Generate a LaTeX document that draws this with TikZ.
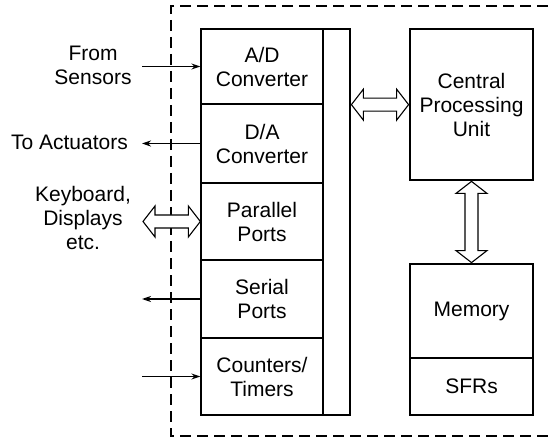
\documentclass[tikz,border=0pt]{standalone}
\usepackage{fontspec}
\setmainfont{Liberation Sans}
\usetikzlibrary{arrows.meta,calc}
\tikzset{
  sec/.style={draw, line width=1.3pt, minimum width=122pt, inner sep=0pt, align=center},
  thickbox/.style={draw, line width=2.8pt, inner sep=0pt},
  lbl/.style={align=center, inner sep=0pt},
  arr/.style={line width=1.2pt, -{Stealth[length=9pt,width=6pt]}},
  darr/.style={draw, line width=1.1pt, fill=white, line join=miter},
  dashbox/.style={line width=1.2pt, dash pattern=on 11pt off 6pt}
}
\newcommand\hdarrow[2]{\draw[darr] (#1) -- ($(#1)+(12,-15.5)$) -- ($(#1)+(12,-6.5)$) -- ($(#2)+(-12,-6.5)$) -- ($(#2)+(-12,-15.5)$) -- (#2) -- ($(#2)+(-12,15.5)$) -- ($(#2)+(-12,6.5)$) -- ($(#1)+(12,6.5)$) -- ($(#1)+(12,15.5)$) -- cycle;}
\newcommand\vdarrow[2]{\draw[darr] (#1) -- ($(#1)+(-15.5,12)$) -- ($(#1)+(-6.5,12)$) -- ($(#2)+(-6.5,-12)$) -- ($(#2)+(-15.5,-12)$) -- (#2) -- ($(#2)+(15.5,-12)$) -- ($(#2)+(6.5,-12)$) -- ($(#1)+(6.5,12)$) -- ($(#1)+(15.5,12)$) -- cycle;}
\begin{document}
\begin{tikzpicture}[x=1pt,y=-1pt, font=\fontsize{21}{24}\selectfont]
\useasboundingbox (0,0) rectangle (551,438);
% dashed boundary
\draw[dashbox] (565,6) -- (171,6) -- (171,436) -- (565,436);
% left block sections
\node[sec, minimum height=75pt] (ad) at (262,66.5) {A/D\\Converter};
\node[sec, minimum height=79pt] (da) at (262,143.5) {D/A\\Converter};
\node[sec, minimum height=77pt] (pp) at (262,221.5) {Parallel\\Ports};
\node[sec, minimum height=78pt] (sp) at (262,299) {Serial\\Ports};
\node[sec, minimum height=77pt] (ct) at (262,376.5) {Counters/\\Timers};
\node[draw, line width=1.3pt, minimum width=27pt, minimum height=386pt, inner sep=0pt] (bus) at (336.5,222) {};
\node[thickbox, minimum width=149pt, minimum height=386pt] (blk) at (275.5,222) {};
% CPU
\node[thickbox, minimum width=123pt, minimum height=151pt, align=center] (cpu) at (471.5,104.5) {Central\\Processing\\Unit};
% Memory
\node[sec, minimum width=123pt, minimum height=94pt] (mem) at (471.5,311) {Memory};
\node[sec, minimum width=123pt, minimum height=57pt] (sfr) at (471.5,386.5) {SFRs};
\node[thickbox, minimum width=123pt, minimum height=151pt] (memblk) at (471.5,339.5) {};
% labels
\node[lbl] (lsens) at (93,65) {From\\Sensors};
\node[lbl, anchor=east] (lact) at (128,142) {To Actuators};
\node[lbl] (lkey) at (83,218) {Keyboard,\\Displays\\etc.};
% single arrows
\coordinate (s1) at (142,0);
\draw[arr] (s1 |- ad.west) -- (ad.west);
\draw[arr] (da.west) -- (s1 |- da.west);
\draw[arr] (sp.west) -- (s1 |- sp.west);
\draw[arr] (s1 |- ct.west) -- (ct.west);
% double arrows
\coordinate (k1) at (143,221.5);
\hdarrow{k1}{pp.west}
\coordinate (h1) at (blk.east |- ad.south);
\coordinate (h2) at (cpu.west |- ad.south);
\hdarrow{h1}{h2}
\vdarrow{cpu.south}{memblk.north}
\end{tikzpicture}
\end{document}
